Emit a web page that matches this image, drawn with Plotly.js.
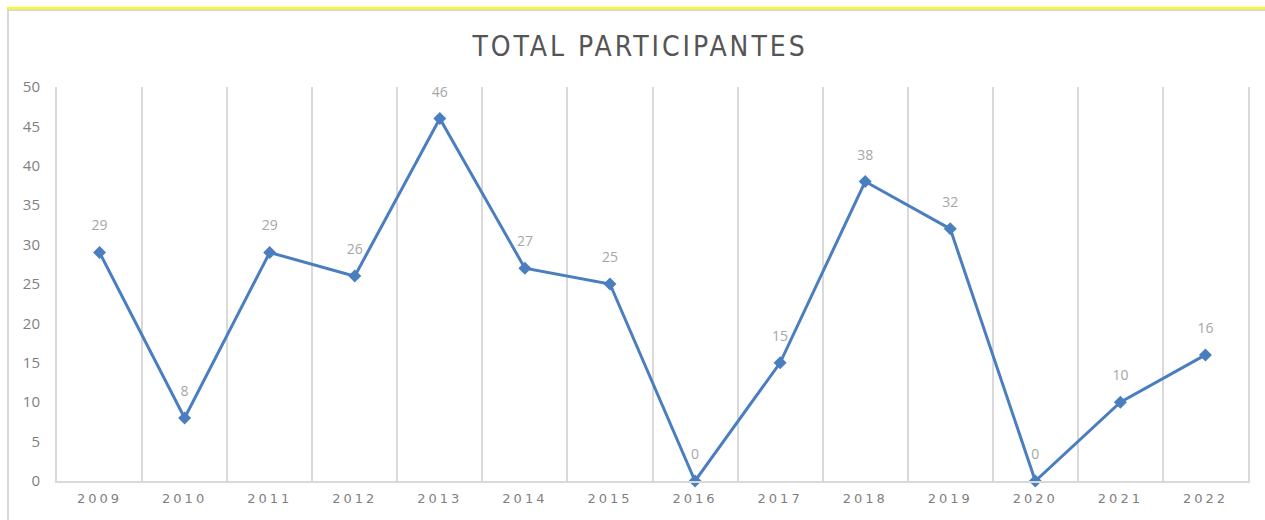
<!DOCTYPE html>
<html>
<head>
<meta charset="utf-8">
<script src="https://cdn.plot.ly/plotly-3.0.1.min.js"></script>
<style>
  html, body { margin: 0; padding: 0; background: #fff; }
  #frame { position: absolute; left: 7px; top: 7px; right: 0; bottom: 0;
           border-top: 2px solid #ffff00; }
  #inner { position: absolute; left: 0; top: 0; right: 0; bottom: 0;
           border-top: 2px solid #d9d9d9; border-left: 2px solid #d9d9d9; }
  #chart { position: absolute; left: 0; top: 0; width: 1265px; height: 520px; }
  .xtick text { letter-spacing: 3px; }
  .gtitle { letter-spacing: 3px; }
</style>
</head>
<body>
<div id="frame"><div id="inner"></div></div>
<div id="chart"></div>
<script>
const years = ["2009","2010","2011","2012","2013","2014","2015","2016","2017","2018","2019","2020","2021","2022"];
const participants = [29, 8, 29, 26, 46, 27, 25, 0, 15, 38, 32, 0, 10, 16];
const yTicks = [0, 5, 10, 15, 20, 25, 30, 35, 40, 45, 50];

const lineTrace = {
  x: years,
  y: participants,
  type: 'scatter',
  mode: 'lines+markers',
  line: { color: '#4a7ebf', width: 3 },
  marker: { symbol: 'diamond', size: 10, color: '#4a7ebf' },
  hoverinfo: 'x+y',
  showlegend: false,
  cliponaxis: false
};

const labelTrace = {
  x: years,
  y: participants,
  type: 'scatter',
  mode: 'markers+text',
  text: participants.map(String),
  textposition: 'top center',
  textfont: { family: 'Open Sans, sans-serif', size: 14, color: '#a6a6a6' },
  marker: { size: 28, color: 'rgba(0,0,0,0)' },
  hoverinfo: 'skip',
  showlegend: false,
  cliponaxis: false
};

const layout = {
  width: 1265, height: 520,
  paper_bgcolor: 'rgba(0,0,0,0)',
  plot_bgcolor: 'rgba(0,0,0,0)',
  margin: { l: 57, r: 17, t: 87, b: 39 },
  title: {
    text: 'TOTAL PARTICIPANTES',
    x: 0.506, xanchor: 'center',
    y: 0.912, yanchor: 'middle',
    font: { family: 'Liberation Sans Narrow, DejaVu Sans Condensed, sans-serif', size: 28, color: '#555555' }
  },
  xaxis: {
    type: 'category',
    range: [-0.5, years.length - 0.5],
    tickson: 'boundaries',
    showgrid: true, gridcolor: '#d9d9d9', gridwidth: 2,
    showline: true, linecolor: '#d9d9d9', linewidth: 2,
    ticks: '', zeroline: false,
    ticklabelstandoff: 4,
    tickfont: { family: 'DejaVu Sans, sans-serif', size: 13, color: '#7f7f7f' },
    fixedrange: true
  },
  yaxis: {
    range: [0, 50],
    tickvals: yTicks,
    showgrid: false, zeroline: false,
    showline: true, linecolor: '#d9d9d9', linewidth: 2, mirror: true,
    ticks: '', ticklabelstandoff: 12,
    tickfont: { family: 'Open Sans, sans-serif', size: 15, color: '#7f7f7f' },
    fixedrange: true
  }
};

Plotly.newPlot('chart', [lineTrace, labelTrace], layout, { displayModeBar: false, staticPlot: true });
</script>
</body>
</html>
